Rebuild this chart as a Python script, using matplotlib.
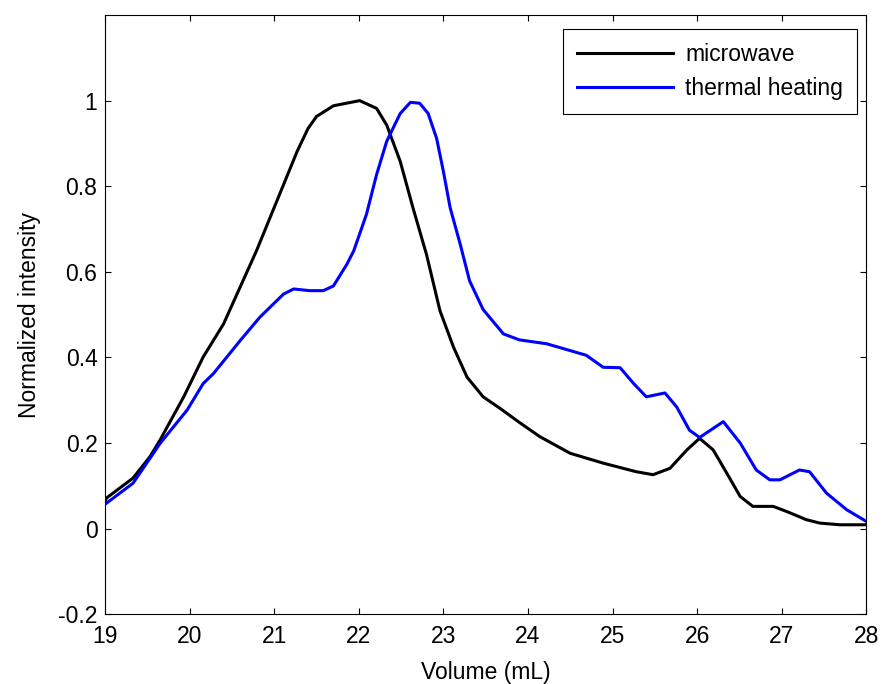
import matplotlib
matplotlib.use("Agg")
import matplotlib.pyplot as plt

# microwave trace
mw_x = [19.0, 19.02, 19.33, 19.53, 19.65, 19.93, 20.16, 20.4, 20.79, 21.03, 21.27,
        21.4, 21.5, 21.7, 22.01, 22.21, 22.33, 22.49, 22.64, 22.8, 22.96, 23.12,
        23.28, 23.47, 23.67, 23.9, 24.14, 24.5, 24.89, 25.28, 25.48, 25.68, 25.88,
        26.03, 26.19, 26.35, 26.51, 26.66, 26.9, 27.06, 27.29, 27.45, 27.69, 28.0]
mw_y = [0.065, 0.072, 0.118, 0.168, 0.207, 0.308, 0.401, 0.478, 0.649, 0.765, 0.881,
        0.935, 0.963, 0.988, 1.0, 0.982, 0.943, 0.858, 0.75, 0.641, 0.509, 0.424,
        0.354, 0.308, 0.281, 0.248, 0.215, 0.176, 0.153, 0.133, 0.126, 0.141, 0.184,
        0.211, 0.184, 0.13, 0.075, 0.052, 0.052, 0.04, 0.021, 0.013, 0.009, 0.009]

# thermal heating trace
th_x = [19.0, 19.02, 19.33, 19.53, 19.65, 19.97, 20.16, 20.28, 20.6, 20.83, 21.11,
        21.23, 21.42, 21.58, 21.7, 21.86, 21.94, 22.09, 22.21, 22.33, 22.49, 22.61,
        22.72, 22.82, 22.92, 23.0, 23.08, 23.2, 23.31, 23.47, 23.71, 23.9, 24.22,
        24.5, 24.69, 24.89, 25.09, 25.25, 25.4, 25.62, 25.76, 25.91, 26.03, 26.31,
        26.51, 26.7, 26.86, 26.98, 27.21, 27.33, 27.53, 27.77, 28.0]
th_y = [0.057, 0.06, 0.106, 0.164, 0.199, 0.277, 0.339, 0.362, 0.44, 0.494, 0.548,
        0.56, 0.556, 0.556, 0.567, 0.618, 0.649, 0.734, 0.827, 0.905, 0.97, 0.996,
        0.994, 0.97, 0.912, 0.835, 0.75, 0.664, 0.579, 0.512, 0.455, 0.441, 0.432,
        0.416, 0.405, 0.377, 0.376, 0.339, 0.308, 0.317, 0.284, 0.23, 0.213, 0.25,
        0.2, 0.137, 0.114, 0.114, 0.137, 0.133, 0.083, 0.044, 0.017]

plt.rcParams['font.family'] = ['Liberation Sans', 'DejaVu Sans']

fig = plt.figure(figsize=(8.83, 6.84), dpi=100)
ax = fig.add_axes([0.119, 0.102, 0.862, 0.876])

ax.plot(mw_x, mw_y, color='black', lw=2.2, label='microwave')
ax.plot(th_x, th_y, color='#0000ff', lw=2.2, label='thermal heating')

ax.set_xlim(19, 28)
ax.set_ylim(-0.2, 1.2)
ax.set_xticks(range(19, 29))
ax.set_yticks([-0.2, 0, 0.2, 0.4, 0.6, 0.8, 1])
ax.set_yticklabels(['-0.2', '0', '0.2', '0.4', '0.6', '0.8', '1'])
ax.tick_params(direction='in', top=True, right=True, length=4.5, width=0.8,
               labelsize=16.5)
ax.tick_params(axis='x', pad=8)
ax.tick_params(axis='y', pad=5.5)
for s in ax.spines.values():
    s.set_linewidth(0.8)

ax.set_xlabel('Volume (mL)', fontsize=16.5, labelpad=9)
ax.set_ylabel('Normalized intensity', fontsize=16.5, labelpad=12)

leg = ax.legend(loc='upper right', bbox_to_anchor=(857 / 883, 1 - 29 / 684),
                bbox_transform=fig.transFigure, fontsize=16.5, handlelength=4.2,
                fancybox=False, edgecolor='black', framealpha=1, borderaxespad=0,
                labelspacing=0.5, borderpad=0.6, handletextpad=0.55)
leg.get_frame().set_linewidth(0.8)

fig.savefig('out.png', dpi=100)
